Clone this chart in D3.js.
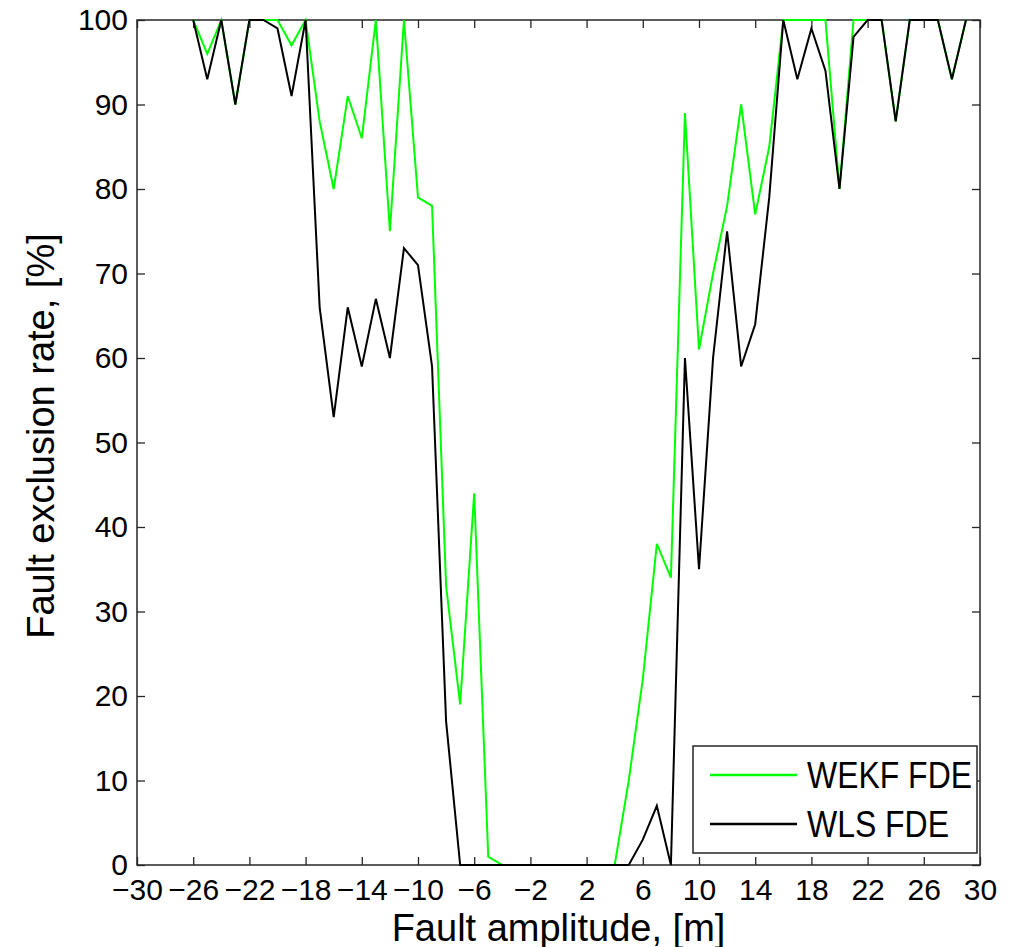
<!DOCTYPE html>
<html>
<head>
<meta charset="utf-8">
<script src="https://cdn.jsdelivr.net/npm/d3@7"></script>
<style>
  html, body { margin: 0; padding: 0; background: #fff; }
  text { font-family: "Liberation Sans", Arial, Helvetica, sans-serif; fill: #000; }
</style>
</head>
<body>
<svg id="chart" width="1017" height="947"></svg>
<script>
// Fault amplitude [m]
const amplitudes = [-26,-25,-24,-23,-22,-21,-20,-19,-18,-17,-16,-15,-14,-13,-12,-11,-10,-9,-8,-7,-6,-5,-4,-3,-2,-1,0,1,2,3,4,5,6,7,8,9,10,11,12,13,14,15,16,17,18,19,20,21,22,23,24,25,26,27,28,29];
// WEKF FDE exclusion rate [%]
const wekf = [100,96,100,90,100,100,100,97,100,88,80,91,86,100,75,100,79,78,33,19,44,1,0,0,0,0,0,0,0,0,0,10,22,38,34,89,61,70,78,90,77,85,100,100,100,100,80,100,100,100,88,100,100,100,93,100];
// WLS FDE exclusion rate [%]
const wls = [100,93,100,90,100,100,99,91,100,66,53,66,59,67,60,73,71,59,17,0,0,0,0,0,0,0,0,0,0,0,0,0,3,7,0,60,35,60,75,59,64,79,100,93,99,94,80,98,100,100,88,100,100,100,93,100];
const xTicks = d3.range(-30, 31, 4);
const yTicks = d3.range(0, 101, 10);
const seriesNames = ["WEKF FDE", "WLS FDE"];
const seriesColors = ["#00ff00", "#000000"];

(function () {
const svg = d3.select("#chart");
const pl = 137, pr = 980, pt = 20, pb = 865;
const x = d3.scaleLinear().domain([-30, 30]).range([pl, pr]);
const y = d3.scaleLinear().domain([0, 100]).range([pb, pt]);
const axisColor = "#262626";

// frame
svg.append("rect").attr("x", pl).attr("y", pt).attr("width", pr - pl).attr("height", pb - pt)
  .attr("fill", "none").attr("stroke", axisColor).attr("stroke-width", 1.5);

const fmt = d => d < 0 ? "\u2212" + Math.abs(d) : String(d);
const tickLen = 8;

// bottom axis
const gx = svg.append("g").attr("transform", `translate(0,${pb})`)
  .call(d3.axisBottom(x).tickValues(xTicks).tickFormat(fmt).tickSizeInner(-tickLen).tickSizeOuter(0).tickPadding(14));
gx.select(".domain").remove();
gx.selectAll("line").attr("stroke", axisColor).attr("stroke-width", 1.3);
gx.selectAll("text").attr("font-size", 30).attr("font-family", "Liberation Sans, Arial, sans-serif").attr("fill", "#000");
// top ticks
const gxt = svg.append("g").attr("transform", `translate(0,${pt})`)
  .call(d3.axisTop(x).tickValues(xTicks).tickFormat("").tickSizeInner(-tickLen).tickSizeOuter(0));
gxt.select(".domain").remove();
gxt.selectAll("line").attr("stroke", axisColor).attr("stroke-width", 1.3);

// left axis
const gy = svg.append("g").attr("transform", `translate(${pl},0)`)
  .call(d3.axisLeft(y).tickValues(yTicks).tickFormat(fmt).tickSizeInner(-tickLen).tickSizeOuter(0).tickPadding(9));
gy.select(".domain").remove();
gy.selectAll("line").attr("stroke", axisColor).attr("stroke-width", 1.3);
gy.selectAll("text").attr("font-size", 30).attr("font-family", "Liberation Sans, Arial, sans-serif").attr("fill", "#000");
// right ticks
const gyr = svg.append("g").attr("transform", `translate(${pr},0)`)
  .call(d3.axisRight(y).tickValues(yTicks).tickFormat("").tickSizeInner(-tickLen).tickSizeOuter(0));
gyr.select(".domain").remove();
gyr.selectAll("line").attr("stroke", axisColor).attr("stroke-width", 1.3);

// lines
const line = d3.line().x((d, i) => x(amplitudes[i])).y(d => y(d));
[wekf, wls].forEach((vals, k) => {
  svg.append("path").datum(vals).attr("d", line)
    .attr("fill", "none").attr("stroke", seriesColors[k]).attr("stroke-width", 2)
    .attr("stroke-linejoin", "miter");
});

// axis labels
svg.append("text").attr("x", (pl + pr) / 2).attr("y", 941).attr("text-anchor", "middle")
  .attr("font-size", 38).text("Fault amplitude, [m]");
svg.append("text").attr("transform", "translate(54,436) rotate(-90)").attr("text-anchor", "middle")
  .attr("font-size", 38).text("Fault exclusion rate, [%]");

// legend
const lg = svg.append("g");
lg.append("rect").attr("x", 693).attr("y", 746).attr("width", 284).attr("height", 107)
  .attr("fill", "#fff").attr("stroke", axisColor).attr("stroke-width", 1.5);
const legendLens = [165, 142];
seriesNames.forEach((name, k) => {
  const ly = 775 + k * 49;
  lg.append("line").attr("x1", 710).attr("x2", 797).attr("y1", ly).attr("y2", ly)
    .attr("stroke", seriesColors[k]).attr("stroke-width", 2.5);
  lg.append("text").attr("x", 807).attr("y", ly + 13).attr("font-size", 36)
    .attr("textLength", legendLens[k]).attr("lengthAdjust", "spacingAndGlyphs").text(name);
});
})();
</script>
</body>
</html>
